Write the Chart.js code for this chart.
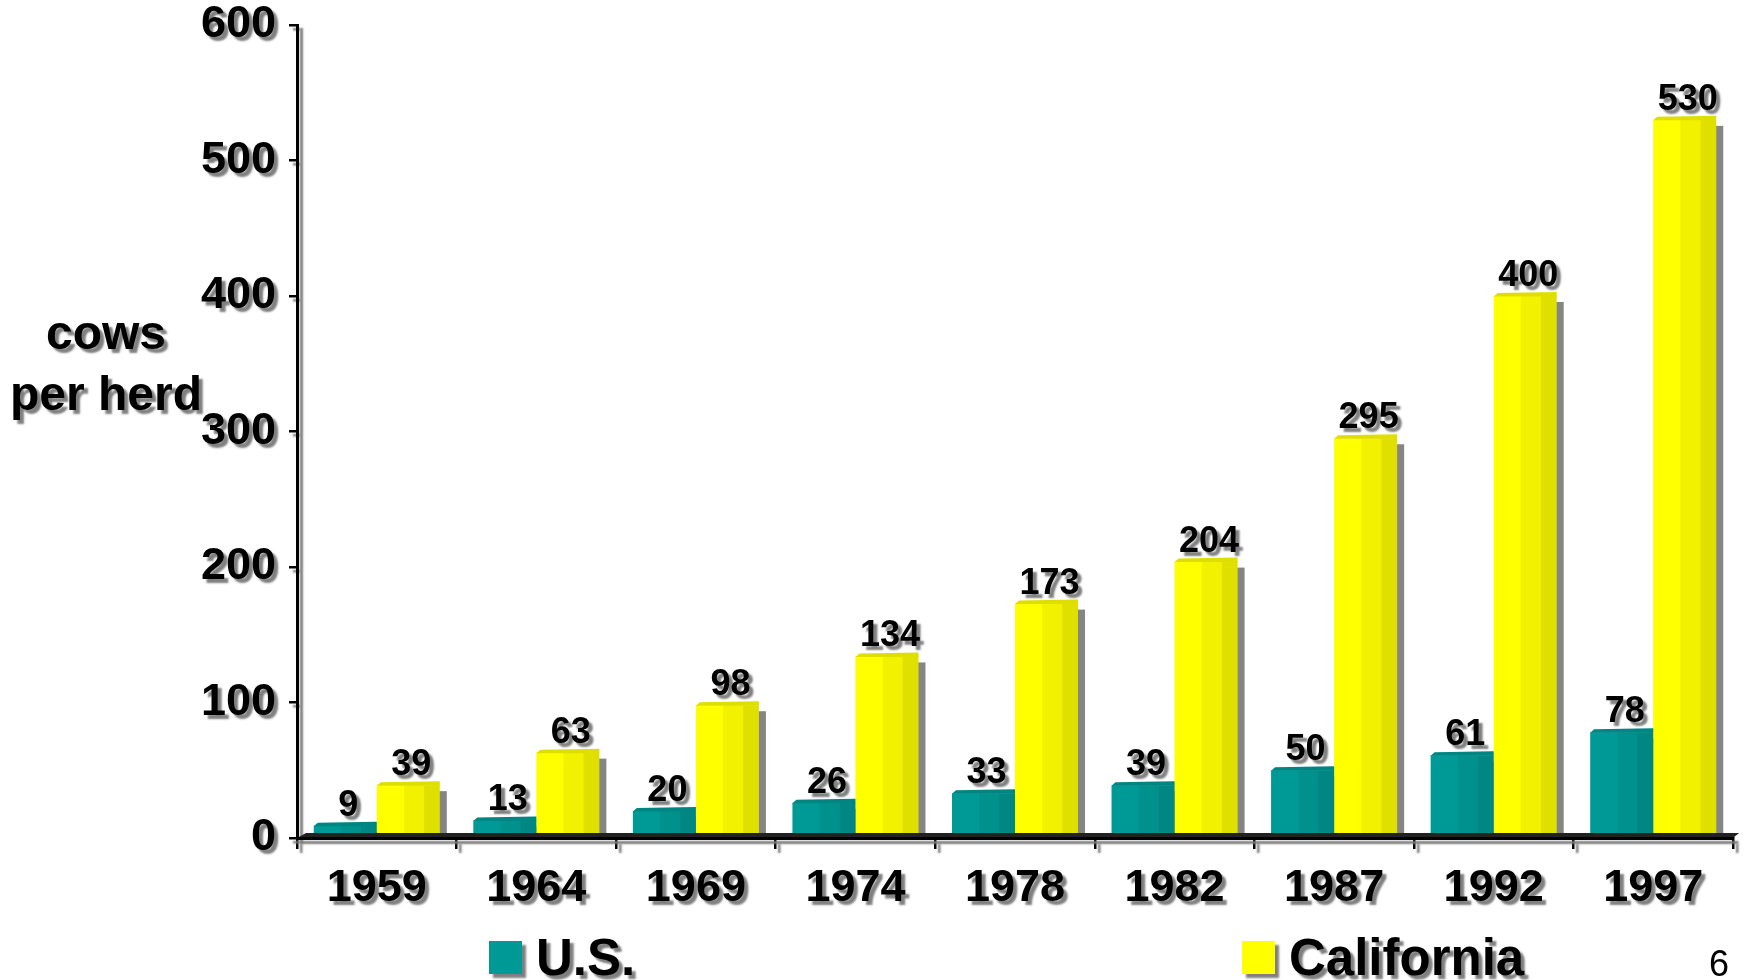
<!DOCTYPE html>
<html><head><meta charset="utf-8">
<script src="https://cdn.jsdelivr.net/npm/chart.js@4.4.0/dist/chart.umd.min.js"></script>
<style>
html,body{margin:0;padding:0;background:#fff;overflow:hidden}
#wrap{position:relative;width:1750px;height:980px}
#page{position:absolute;left:1709px;top:944px;font:36px "Liberation Sans",Arial,sans-serif;color:#000;line-height:40px}
</style></head><body>
<div id="wrap"><canvas id="c" width="1750" height="980"></canvas><div id="page">6</div></div>
<script>
const years = ['1959','1964','1969','1974','1978','1982','1987','1992','1997'];
const usValues = [9, 13, 20, 26, 33, 39, 50, 61, 78];
const caValues = [39, 63, 98, 134, 173, 204, 295, 400, 530];
const seriesNames = ['U.S.', 'California'];
const seriesColors = ['#009a96', '#ffff00'];
const yMin = 0, yMax = 600, yStep = 100;
const yTitleLines = ['cows', 'per herd'];

const FONT = '"Liberation Sans", Arial, sans-serif';

function setShadow(ctx, on, d) {
  d = d || 4;
  ctx.shadowColor = on ? 'rgba(120,120,120,0.95)' : 'rgba(0,0,0,0)';
  ctx.shadowOffsetX = on ? d : 0;
  ctx.shadowOffsetY = on ? d : 0;
  ctx.shadowBlur = on ? 2 : 0;
}

const deco = {
  id: 'deco',
  beforeDraw(chart) { setShadow(chart.ctx, true); },
  beforeDatasetsDraw(chart) {
    const ctx = chart.ctx;
    setShadow(ctx, false);
    const base = chart.scales.y.getPixelForValue(0);
    ctx.save();
    ctx.fillStyle = '#858585';
    chart.data.datasets.forEach((ds, i) => {
      chart.getDatasetMeta(i).data.forEach(b => {
        const x0 = b.x - b.width / 2;
        const t = b.y + 6;
        if (base - t > 0) ctx.fillRect(x0 + 7, t, b.width, base - t);
      });
    });
    ctx.restore();
  },
  afterDatasetsDraw(chart) {
    const ctx = chart.ctx;
    const base = chart.scales.y.getPixelForValue(0);
    ctx.save();
    setShadow(ctx, false);
    chart.data.datasets.forEach((ds, i) => {
      chart.getDatasetMeta(i).data.forEach(b => {
        const x0 = b.x - b.width / 2, w = b.width, x1 = x0 + w;
        ctx.fillStyle = 'rgba(0,0,0,0.055)';
        ctx.fillRect(x0 + w * 0.43, b.y, w * 0.57, base - b.y);
        ctx.fillStyle = 'rgba(0,0,0,0.07)';
        ctx.fillRect(x0 + w * 0.75, b.y, w * 0.25, base - b.y);
        // top face
        ctx.fillStyle = ds.backgroundColor;
        ctx.beginPath();
        ctx.moveTo(x0, b.y + 0.5);
        ctx.lineTo(x0 + 4, b.y - 3);
        ctx.lineTo(x1, b.y - 4);
        ctx.lineTo(x1, b.y + 0.5);
        ctx.closePath();
        ctx.fill();
        ctx.fillStyle = 'rgba(0,0,0,0.13)';
        ctx.fill();
      });
    });
    // floor strip
    const L = chart.chartArea.left, R = chart.chartArea.right;
    ctx.fillStyle = '#222';
    ctx.beginPath();
    ctx.moveTo(L, base);
    ctx.lineTo(L + 9, base - 5);
    ctx.lineTo(R + 6, base - 5);
    ctx.lineTo(R, base);
    ctx.closePath();
    ctx.fill();
    ctx.restore();

    // data labels
    setShadow(ctx, true);
    ctx.save();
    ctx.font = 'bold 36px ' + FONT;
    ctx.fillStyle = '#000';
    ctx.textAlign = 'center';
    ctx.textBaseline = 'alphabetic';
    chart.data.datasets.forEach((ds, i) => {
      chart.getDatasetMeta(i).data.forEach((b, j) => {
        ctx.fillText(String(ds.data[j]), b.x + 3, b.y - 10);
      });
    });
    ctx.restore();
  },
  afterDraw(chart) {
    const ctx = chart.ctx;
    ctx.save();
    setShadow(ctx, true);
    // y title
    ctx.font = 'bold 48px ' + FONT;
    ctx.fillStyle = '#000';
    ctx.textAlign = 'center';
    ctx.textBaseline = 'middle';
    ctx.fillText(yTitleLines[0], 106, 336);
    ctx.fillText(yTitleLines[1], 106, 397);
    // legend
    const boxX = [489, 1242];
    ctx.font = 'bold 51px ' + FONT;
    ctx.textAlign = 'left';
    ctx.textBaseline = 'alphabetic';
    chart.data.datasets.forEach((ds, i) => {
      ctx.fillStyle = ds.backgroundColor;
      ctx.fillRect(boxX[i], 941, 33, 33);
      ctx.fillStyle = '#000';
      ctx.fillText(ds.label, boxX[i] + 47, 975);
    });
    ctx.restore();
    setShadow(ctx, false);
  }
};

new Chart(document.getElementById('c'), {
  type: 'bar',
  data: {
    labels: years,
    datasets: [
      { label: seriesNames[0], data: usValues, backgroundColor: seriesColors[0], borderWidth: 0 },
      { label: seriesNames[1], data: caValues, backgroundColor: seriesColors[1], borderWidth: 0 }
    ]
  },
  options: {
    responsive: false,
    animation: false,
    devicePixelRatio: 1,
    categoryPercentage: 0.79,
    barPercentage: 1.0,
    layout: { padding: { left: 0, top: 25, right: 17, bottom: 62 } },
    plugins: { legend: { display: false }, tooltip: { enabled: false } },
    scales: {
      x: {
        grid: { display: true, drawOnChartArea: false, drawTicks: true, tickLength: 11, color: '#000', lineWidth: 2.5, offset: true },
        border: { display: true, color: '#000', width: 3, z: 1 },
        ticks: { color: '#000', font: { family: FONT, size: 45, weight: 'bold' }, padding: 13, maxRotation: 0 },
        afterFit(scale) { scale.height = 80; scale.paddingLeft = 0; scale.paddingRight = 0; }
      },
      y: {
        min: yMin, max: yMax,
        grid: { display: true, drawOnChartArea: false, drawTicks: true, tickLength: 8, color: '#000', lineWidth: 2.5 },
        border: { display: true, color: '#000', width: 3 },
        ticks: { stepSize: yStep, color: '#000', font: { family: FONT, size: 45, weight: 'bold' }, padding: 13 },
        afterFit(scale) { scale.width = 297; scale.paddingTop = 0; scale.paddingBottom = 0; }
      }
    }
  },
  plugins: [deco]
});
</script>
</body></html>
